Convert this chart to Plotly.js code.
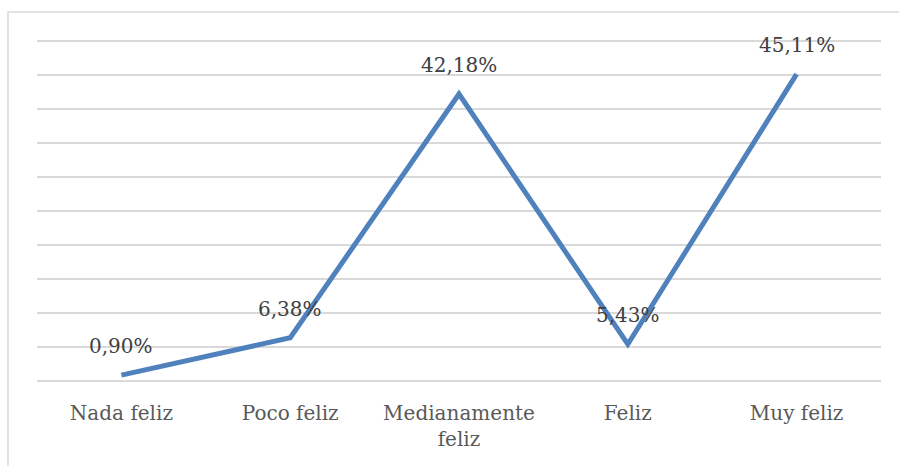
<!DOCTYPE html>
<html>
<head>
<meta charset="utf-8">
<script src="https://cdn.plot.ly/plotly-3.0.1.min.js"></script>
<style>html,body{margin:0;padding:0;background:#fff;}#chart{width:899px;height:466px;}</style>
</head>
<body>
<div id="chart"></div>
<script>
const categories = ['Nada feliz', 'Poco feliz', 'Medianamente<br>feliz', 'Feliz', 'Muy feliz'];
const values = [0.90, 6.38, 42.18, 5.43, 45.11];
const labels = ['0,90%', '6,38%', '42,18%', '5,43%', '45,11%'];

const trace = {
  x: categories,
  y: values,
  type: 'scatter',
  mode: 'lines',
  line: {color: '#4f81bd', width: 5},
  hoverinfo: 'skip'
};

const annotations = categories.map((c, i) => ({
  x: c, y: values[i], xref: 'x', yref: 'y',
  text: labels[i], showarrow: false,
  yshift: 29, yanchor: 'middle',
  font: {family: 'DejaVu Serif', size: 20, color: '#404040'}
}));

const layout = {
  width: 899, height: 466,
  margin: {l: 37, r: 18, t: 34, b: 78},
  paper_bgcolor: '#ffffff', plot_bgcolor: '#ffffff',
  showlegend: false,
  xaxis: {
    type: 'category',
    range: [-0.5, 4.5],
    showgrid: false, zeroline: false, showline: false,
    ticks: '',
    ticklabelstandoff: 11,
    tickfont: {family: 'DejaVu Serif', size: 20, color: '#595959'},
    fixedrange: true
  },
  yaxis: {
    range: [-1, 51], dtick: 5, tick0: 0,
    showgrid: true, gridcolor: '#d9d9d9', gridwidth: 2,
    zeroline: false, showline: false,
    showticklabels: false, ticks: '',
    fixedrange: true
  },
  annotations: annotations,
  shapes: [{
    type: 'rect', xref: 'paper', yref: 'paper',
    x0: -0.0344, x1: 1.2, y0: -0.5, y1: 1.062,
    line: {color: '#d9d9d9', width: 1.5},
    fillcolor: 'rgba(0,0,0,0)', layer: 'below'
  }]
};

Plotly.newPlot('chart', [trace], layout, {displayModeBar: false, staticPlot: true});
</script>
</body>
</html>
